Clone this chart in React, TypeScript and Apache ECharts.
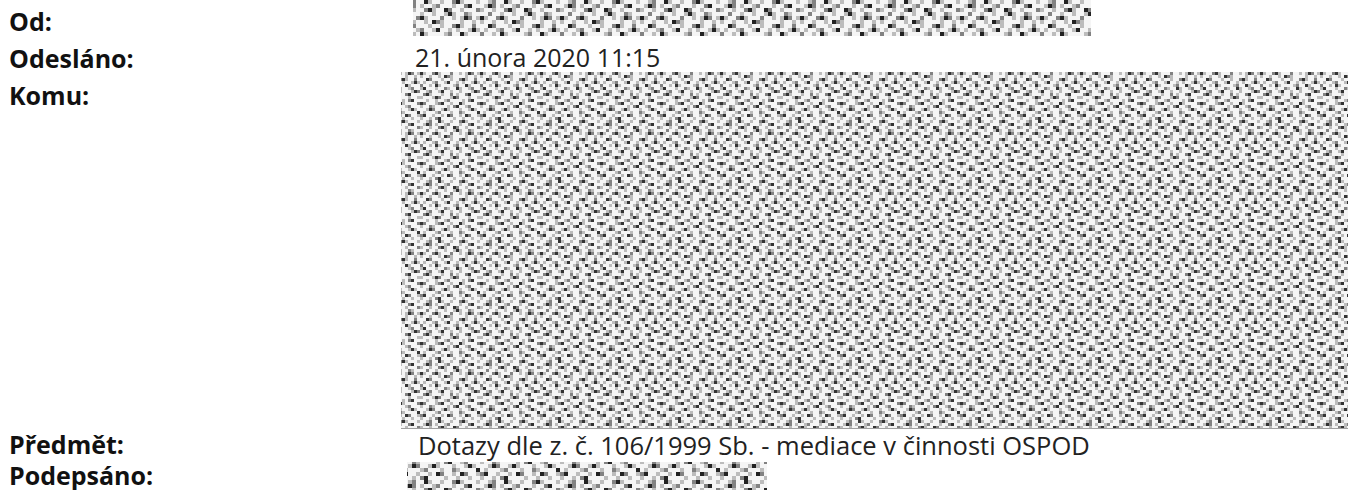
import React, { useEffect, useRef } from "react";
import * as echarts from "echarts";

const labels = ["Od:", "Odesláno:", "Komu:", "Předmět:", "Podepsáno:"];
const labelBaselines = [29, 66, 103, 452, 483];
const dateText = "21. února 2020 11:15";
const subjectText = "Dotazy dle z. č. 106/1999 Sb. - mediace v činnosti OSPOD";

// hand-drawn texture tile for the redacted (noise) blocks
const tile = [
  "..-+..#-..-..+#-...-",
  ".-#+.-..-+...-..+#..",
  "-..-..+#-..#+..-...+",
  "..+..-..-..-#-..+-..",
  "#-..+#-...+..-.-#+.-",
  "-..-..-.#+-....-..-.",
  "..#+...-..-..+#-..+.",
  ".-..-+..-#..-.-..-#-",
  "+..-.#-....-+..#-...",
  "-#...-..+-..#-..-+..",
  "..-+..-#..-..-...-#+",
  ".+#-...-..+.-..+#...",
  "-...-#+...-#+...-..-",
  "..-..-..-+....-.+#..",
  "#+...-+#..-..#-....+",
  "-..+-....-.+#..-+...",
  "..-#+..-#-...-..-#-.",
  ".-...-+...-..+-....#",
  "+#..-..-.#+..-.#+..-",
  "-..-.+#....-..-..-..",
];

const shades: Record<string, string> = { "-": "#bcbcbc", "+": "#828282", "#": "#333333" };

function tileUrl(cell: number, darkScale: number) {
  const n = tile.length;
  let rects = "";
  tile.forEach((row, r) => {
    row.split("").forEach((ch, c) => {
      if (ch === ".") return;
      let col = shades[ch];
      if (darkScale > 1 && ch === "#") col = "#222222";
      rects += `<rect x="${c * cell}" y="${r * cell}" width="${cell}" height="${cell}" fill="${col}"/>`;
    });
  });
  const s = n * cell;
  const svg = `<svg xmlns="http://www.w3.org/2000/svg" width="${s}" height="${s}"><rect width="${s}" height="${s}" fill="#f5f5f5"/>${rects}</svg>`;
  return "data:image/svg+xml;charset=utf-8," + encodeURIComponent(svg);
}

export default function App() {
  const ref = useRef<HTMLDivElement>(null);
  useEffect(() => {
    if (!ref.current) return;
    const chart = echarts.init(ref.current, undefined, { renderer: "svg" });
    const fine = tileUrl(3, 1);
    const coarse = tileUrl(4, 2);
    const font = "'Open Sans', 'Noto Sans', sans-serif";
    const graphics: any[] = [];
    labels.forEach((t, i) => {
      graphics.push({
        type: "text",
        x: 9,
        y: labelBaselines[i] - 8,
        style: {
          text: t,
          fill: "#111",
          font: `bold 25px ${font}`,
          verticalAlign: "middle",
          align: "left",
        },
      });
    });
    graphics.push({
      type: "text",
      x: 415,
      y: 65 - 8,
      style: { text: dateText, fill: "#222", font: `25px ${font}`, verticalAlign: "middle" },
    });
    graphics.push({
      type: "text",
      x: 418,
      y: 453 - 8,
      style: { text: subjectText, fill: "#222", font: `25.5px ${font}`, verticalAlign: "middle" },
    });
    graphics.push({
      type: "rect",
      shape: { x: 413, y: 0, width: 678, height: 36 },
      style: { fill: { image: coarse, repeat: "repeat" } },
    });
    graphics.push({
      type: "rect",
      shape: { x: 401, y: 72, width: 947, height: 356 },
      style: { fill: { image: fine, repeat: "repeat" } },
    });
    graphics.push({
      type: "line",
      shape: { x1: 401, y1: 428.5, x2: 1348, y2: 428.5 },
      style: { stroke: "#a0a0a0", lineWidth: 1 },
    });
    graphics.push({
      type: "rect",
      shape: { x: 407, y: 462, width: 360, height: 28 },
      style: { fill: { image: coarse, repeat: "repeat" } },
    });
    chart.setOption({
      animation: false,
      backgroundColor: "#ffffff",
      graphic: { elements: graphics },
    });
    return () => chart.dispose();
  }, []);
  return (
    <div
      ref={ref}
      style={{ position: "fixed", left: 0, top: 0, width: 1348, height: 490 }}
    />
  );
}
